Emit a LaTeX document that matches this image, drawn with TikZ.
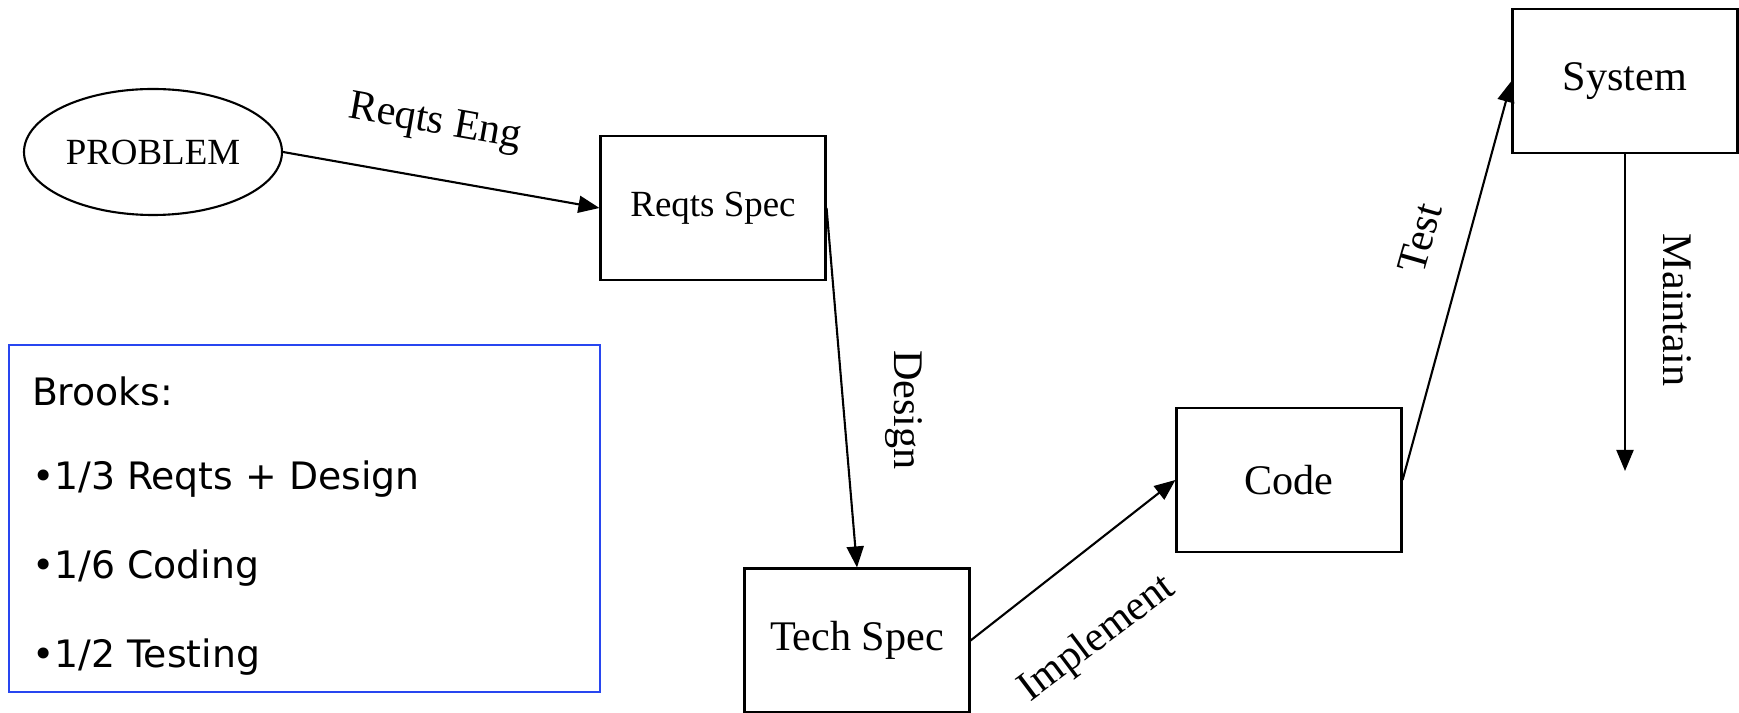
\documentclass[tikz,border=0pt]{standalone}
\usepackage{fontspec}
\setmainfont{Liberation Serif}
\newfontfamily\notefont{DejaVu Sans}
\usepackage{xcolor}
\usetikzlibrary{arrows.meta,shapes.geometric}
\definecolor{notblue}{RGB}{40,70,240}

\begin{document}
\begin{tikzpicture}[line width=1.2pt,
    box/.style={draw, minimum width=4.5cm, minimum height=2.88cm, font=\fontsize{24}{28}\selectfont},
    lbl/.style={font=\fontsize{24}{28}\selectfont, inner sep=0pt},
    flow/.style={-{Triangle[length=0.42cm,width=0.34cm]}},
    note/.style={anchor=west, inner sep=0pt, font=\notefont\fontsize{21.5}{26}\selectfont}]
    \useasboundingbox (0,0) rectangle (34.78,14.26);
    % the stages
    \node[draw, ellipse, inner sep=0pt, minimum width=5.16cm, minimum height=2.52cm,
        font=\fontsize{21}{25}\selectfont] (prob) at (3.06,11.22) {PROBLEM};
    \node[box, font=\fontsize{21}{25}\selectfont] (rspec) at (14.26,10.10) {Reqts Spec};
    \node[box] (tspec) at (17.14,1.45) {Tech Spec};
    \node[box] (code) at (25.78,4.66) {Code};
    \node[box] (sys) at (32.5,12.64) {System};
    \coordinate (maintend) at (32.5,4.84);
    % the steps between them
    \draw[flow] (prob.east) -- (rspec.west);
    \draw[flow] (rspec.east) -- (tspec.north);
    \draw[flow] (tspec.east) -- (code.west);
    \draw[flow] (code.east) -- (sys.west);
    \draw[flow] (sys.south) -- (maintend);
    \node[lbl, rotate=-10] (eng) at (8.70,11.78) {Reqts Eng};
    \node[lbl, rotate=-90] (des) at (18.08,6.06) {Design};
    \node[lbl, rotate=37] (impl) at (21.95,1.48) {Implement};
    \node[lbl, rotate=74] (test) at (28.40,9.50) {Test};
    \node[lbl, rotate=-90] (maint) at (33.54,8.06) {Maintain};
    % Brooks
    \draw[notblue, line width=0.9pt] (0.18,0.42) rectangle (12.0,7.36);
    \node[note] (brooks) at (0.62,6.44) {Brooks:};
    \node[note] (rd) at (0.62,4.68) {•1/3 Reqts + Design};
    \node[note] (cod) at (0.62,2.90) {•1/6 Coding};
    \node[note] (tst) at (0.62,1.12) {•1/2 Testing};
\end{tikzpicture}
\end{document}
